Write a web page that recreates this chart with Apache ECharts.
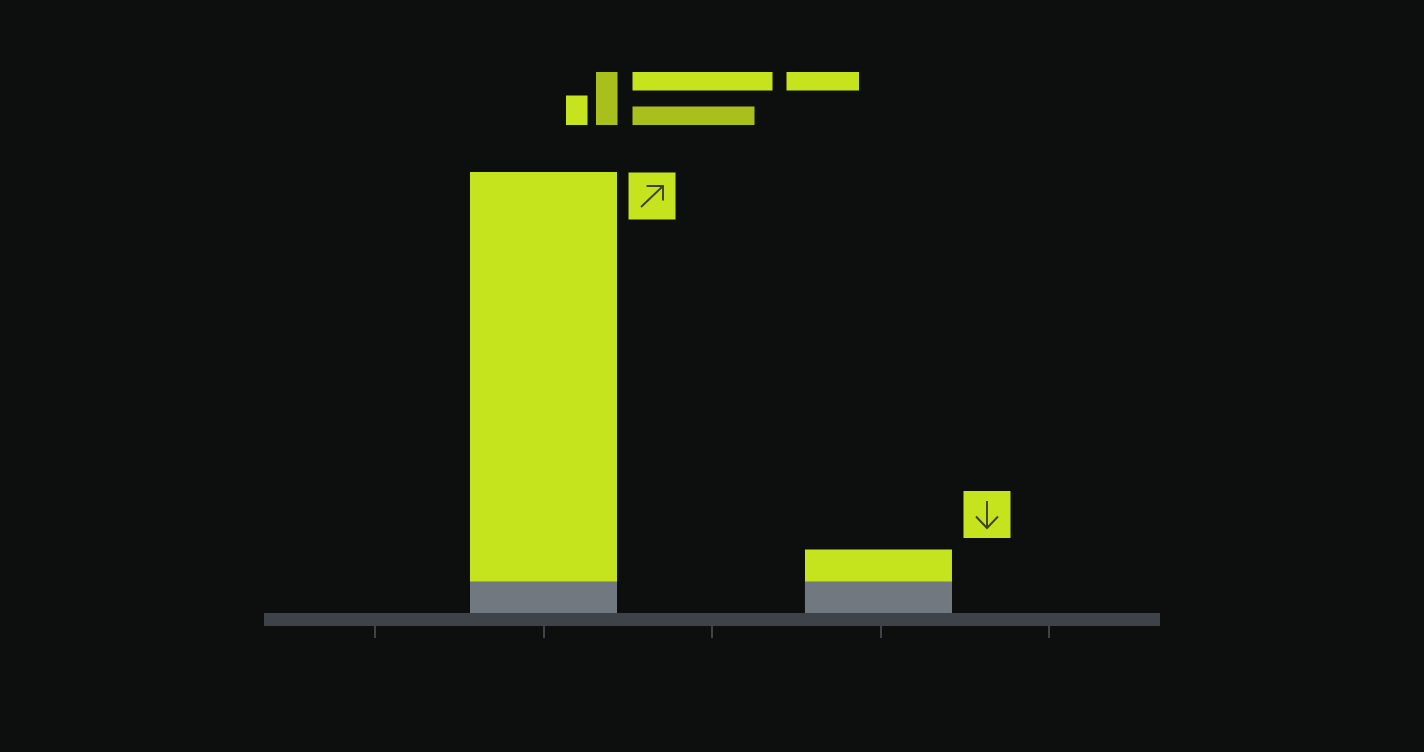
<!DOCTYPE html>
<html>
<head>
<meta charset="utf-8">
<style>html,body{margin:0;padding:0;background:#0d0f0f}#c{width:1424px;height:752px}</style>
<script src="https://cdn.jsdelivr.net/npm/echarts@6/dist/echarts.min.js"></script>
</head>
<body>
<div id="c"></div>
<script>
var tickValues = [0, 1, 2, 3, 4];
var barPositions = [1, 2.988];
var baseValues = [7.14, 7.14];
var totalValues = [100, 14.4];
var badges = [[1.644, 94.56, 'up'], [3.632, 22.33, 'down']];

var LIME = '#c6e41e', LIME_DIM = '#a9c01c', GREY = '#71787f', BAND = '#3d4349', TICK = '#50555b', BG = '#0d0f0f', INK = '#3d4326';

function pairs(xs, ys) { return xs.map(function (x, i) { return [x, ys[i]]; }); }

function headerRect(x, y, w, h, c) {
  return { type: 'rect', shape: { x: x, y: y, width: w, height: h }, style: { fill: c }, silent: true };
}

function renderBadge(params, api) {
  var p = api.coord([api.value(0), api.value(1)]);
  var up = badges[params.dataIndex][2] === 'up';
  var s = 23.5;
  var arrow = up
    ? [[[-11, 11], [11, -10]], [[-5.5, -10], [11, -10], [11, 4.5]]]
    : [[[0, -13.5], [0, 13.5]], [[-11, 2], [0, 13.5], [11, 2]]];
  var kids = [{ type: 'rect', shape: { x: p[0] - s, y: p[1] - s, width: 2 * s, height: 2 * s }, style: { fill: LIME } }];
  arrow.forEach(function (pts) {
    kids.push({
      type: 'polyline',
      shape: { points: pts.map(function (q) { return [p[0] + q[0], p[1] + q[1]]; }) },
      style: { fill: 'none', stroke: INK, lineWidth: 1.9 }
    });
  });
  return { type: 'group', children: kids };
}

var chart = echarts.init(document.getElementById('c'), null, { renderer: 'canvas', width: 1424, height: 752 });
var xMin = (264 - 375) / 168.5, xMax = (1160 - 375) / 168.5;

chart.setOption({
  backgroundColor: BG,
  animation: false,
  grid: { left: 264, top: 172, width: 896, height: 441 },
  xAxis: [
    {
      type: 'value', min: xMin, max: xMax, offset: 6.5, position: 'bottom',
      splitLine: { show: false }, axisLabel: { show: false }, axisTick: { show: false },
      axisLine: { show: true, onZero: false, lineStyle: { color: BAND, width: 13, cap: 'butt' } }
    },
    {
      type: 'value', min: xMin, max: xMax, offset: 13, position: 'bottom',
      splitLine: { show: false }, axisLine: { show: false, onZero: false },
      axisLabel: { show: false, customValues: tickValues },
      axisTick: { show: true, customValues: tickValues, length: 12, lineStyle: { color: TICK, width: 1.5 } }
    }
  ],
  yAxis: { type: 'value', min: 0, max: 100, show: false, splitLine: { show: false } },
  series: [
    { type: 'bar', barGap: '-100%', barWidth: 147, itemStyle: { color: LIME }, data: pairs(barPositions, totalValues) },
    { type: 'bar', barGap: '-100%', barWidth: 147, itemStyle: { color: GREY }, data: pairs(barPositions, baseValues) },
    { type: 'custom', renderItem: renderBadge, clip: false, data: badges.map(function (b) { return [b[0], b[1]]; }) }
  ],
  graphic: { elements: [
    headerRect(566, 95.5, 21.5, 29.5, LIME),
    headerRect(596, 72, 21.5, 53, LIME_DIM),
    headerRect(632.5, 72, 140, 18.5, LIME),
    headerRect(786.5, 72, 72.5, 18.5, LIME),
    headerRect(632.5, 106.5, 122, 18.5, LIME_DIM)
  ] }
});
</script>
</body>
</html>
